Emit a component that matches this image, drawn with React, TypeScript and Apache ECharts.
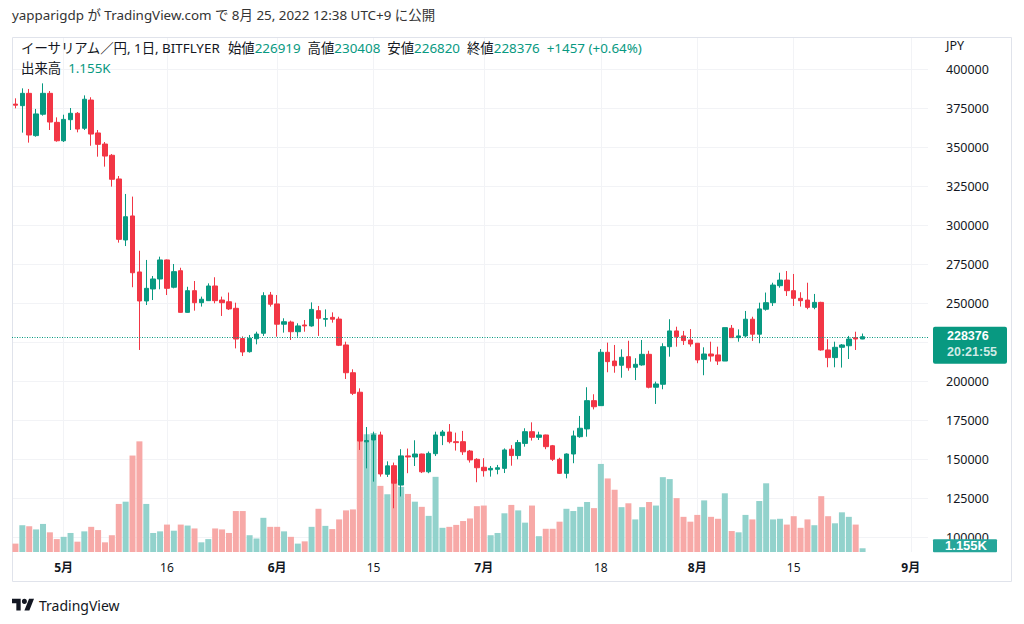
import React, { useEffect, useRef } from "react";
import * as echarts from "echarts";

const FONT = '"Noto Sans", "Noto Sans CJK JP", sans-serif';
const TAG_FONT = '"Liberation Sans", Arial, sans-serif';

// Day slots on the x axis: 2022-04-24 .. 2022-09-03
const firstDay = { y: 2022, m: 4, d: 24 };
const slotCount = 133;

const xTickDates = ["2022-05-01", "2022-05-16", "2022-06-01", "2022-06-15", "2022-07-01", "2022-07-18", "2022-08-01", "2022-08-15", "2022-09-01"];
const xTickTexts = ["5月", "16", "6月", "15", "7月", "18", "8月", "15", "9月"];

const priceMin = 100000;
const priceMax = 400000;
const priceStep = 25000;

// Daily OHLC, ETH/JPY bitFlyer, 2022-04-24 .. 2022-08-25
const openP = [377500, 376500, 384400, 357300, 371000, 384400, 365800, 354000, 367500, 371600, 362000, 380100, 359000, 351900, 344700, 329500, 290400, 305800, 269900, 251300, 259000, 265400, 277600, 260100, 270700, 244000, 257900, 250200, 251500, 260900, 251900, 250800, 246600, 227200, 218800, 227100, 230600, 255100, 249400, 236400, 237800, 231600, 235900, 235300, 245100, 239600, 240800, 239700, 223100, 205300, 192800, 161000, 162200, 165400, 140200, 145700, 133300, 152000, 151300, 153200, 141800, 153400, 165000, 167300, 161100, 161100, 155100, 149800, 144700, 143000, 143400, 144000, 156300, 152200, 160000, 167500, 163900, 165400, 158500, 149800, 140800, 153200, 164300, 169300, 187400, 184200, 218400, 212800, 210100, 215600, 208800, 210300, 217100, 196000, 197900, 222000, 232100, 228900, 226300, 224200, 213900, 217300, 216700, 212800, 233800, 227800, 228900, 239600, 230000, 246000, 250200, 261100, 264700, 257900, 253000, 251900, 247200, 250400, 219900, 215000, 221600, 222600, 227800, 226919];
const highP = [381200, 387600, 387200, 374400, 390800, 385900, 369000, 370700, 375000, 372400, 383100, 381900, 360900, 353200, 345500, 331400, 319900, 318200, 283500, 277600, 267300, 279700, 277900, 275000, 272600, 260400, 264100, 254100, 262600, 266500, 254100, 256700, 250200, 228600, 229500, 231600, 256900, 257100, 255100, 240200, 238700, 237000, 239100, 250400, 248100, 245900, 244000, 241200, 225200, 207500, 195300, 170500, 167500, 167500, 148500, 147700, 156300, 156700, 162000, 153400, 154800, 167500, 168600, 172400, 166900, 168000, 155800, 150500, 150500, 145500, 146200, 156800, 158900, 162200, 169700, 173500, 167500, 165600, 159000, 150800, 153600, 168200, 177600, 196000, 191500, 220500, 224600, 223100, 220300, 225800, 214600, 226300, 219400, 199600, 224200, 239600, 234800, 232100, 233300, 224400, 221600, 225200, 222000, 234200, 235900, 233100, 244900, 241200, 250200, 256700, 263000, 269400, 270500, 268600, 256900, 263000, 255800, 250800, 226800, 225200, 223700, 228900, 231600, 230408];
const lowP = [374800, 359200, 352800, 356600, 370100, 360900, 353400, 353200, 360900, 359400, 360900, 350800, 343800, 337400, 324600, 288700, 286500, 260100, 219900, 248700, 251900, 258800, 255100, 259400, 243800, 243800, 245100, 247700, 251300, 249800, 241700, 245500, 220900, 216000, 218200, 223500, 228900, 247700, 228400, 231000, 226300, 228400, 231600, 234800, 228900, 234800, 237400, 222400, 201300, 191000, 155800, 144000, 135500, 138700, 138500, 118400, 126000, 140900, 145500, 141000, 140900, 151900, 158900, 160000, 155400, 152600, 147700, 135100, 138700, 138700, 140200, 141000, 145700, 149800, 157900, 161800, 162200, 156300, 148700, 140400, 137600, 147300, 163600, 164300, 181800, 184200, 205600, 205300, 202100, 206600, 200600, 209800, 195300, 185300, 194700, 215600, 222000, 223100, 222000, 211400, 203700, 212400, 210300, 212800, 227800, 225200, 228000, 225700, 224200, 245100, 248100, 259800, 254500, 248100, 247700, 246000, 246000, 219400, 208800, 208800, 208600, 214100, 219900, 226820];
const closeP = [376800, 384400, 357700, 371200, 384400, 366000, 354000, 367700, 371600, 361500, 380600, 358300, 351700, 344200, 329300, 290800, 305300, 269400, 251300, 259400, 265400, 277600, 259400, 270100, 244000, 257900, 250200, 252400, 260900, 251500, 250200, 246200, 226900, 218600, 227400, 230100, 254700, 249200, 236400, 238000, 231600, 235300, 235300, 245900, 240200, 240000, 239600, 222900, 205300, 192100, 161500, 161800, 165400, 140400, 145600, 134500, 152000, 151300, 153200, 141800, 153600, 165400, 167300, 161100, 160500, 154600, 149400, 144400, 142500, 144000, 144400, 155800, 152200, 160500, 167500, 163900, 165400, 157900, 149800, 140800, 153200, 164800, 169700, 187400, 183500, 218400, 212400, 209800, 215200, 208500, 210700, 217100, 196000, 198100, 222000, 232100, 228400, 225900, 223700, 213500, 217300, 216000, 212800, 234200, 227800, 228900, 239600, 230000, 246200, 250200, 261500, 264700, 257900, 253000, 251500, 247200, 250400, 219900, 215000, 221600, 223100, 226900, 226919, 228376];
// Volume in thousands (K)
const volumeK = [2.6, 8.3, 8.0, 7.0, 8.7, 6.1, 4.0, 4.7, 5.9, 3.2, 6.4, 7.8, 6.8, 3.0, 5.2, 14.9, 15.6, 29.9, 34.3, 14.9, 5.9, 6.4, 8.5, 6.6, 8.5, 8.2, 7.3, 3.0, 4.0, 7.3, 7.0, 5.9, 12.7, 12.7, 5.2, 4.2, 10.6, 7.8, 7.8, 6.4, 4.7, 2.6, 3.3, 7.8, 13.4, 8.1, 7.1, 10.1, 12.9, 13.2, 40.2, 36.5, 36.9, 20.5, 17.9, 22.6, 20.2, 18.0, 15.6, 14.0, 11.2, 23.3, 7.5, 7.8, 8.4, 9.6, 10.4, 14.2, 14.4, 5.2, 5.9, 12.0, 14.6, 12.9, 9.1, 14.4, 4.9, 7.2, 7.2, 9.4, 13.4, 12.7, 14.0, 15.5, 13.6, 27.3, 22.8, 19.3, 13.9, 15.1, 10.1, 13.9, 15.5, 14.4, 23.2, 22.6, 16.7, 10.9, 9.4, 11.5, 16.0, 10.9, 10.3, 18.2, 6.5, 6.1, 11.5, 10.1, 15.8, 21.3, 10.1, 10.3, 8.5, 11.1, 7.5, 10.1, 8.3, 17.3, 11.1, 8.9, 12.3, 10.9, 8.5, 1.155];

const UP = "#089981";
const DOWN = "#f23645";
const VOL_UP = "#92d2cc";
const VOL_DOWN = "#f7a9a7";
const TEXT = "#131722";
const GRID_LINE = "#f2f3f6";

function makeDates(): string[] {
  const out: string[] = [];
  for (let k = 0; k < slotCount; k++) {
    const dt = new Date(Date.UTC(firstDay.y, firstDay.m - 1, firstDay.d + k));
    const mm = String(dt.getUTCMonth() + 1).padStart(2, "0");
    const dd = String(dt.getUTCDate()).padStart(2, "0");
    out.push(`${dt.getUTCFullYear()}-${mm}-${dd}`);
  }
  return out;
}

echarts.graphic.registerShape(
  "tvlogo",
  echarts.graphic.extendPath("M0 4H14V22H7V11H0Z M20 22L27.5 4H35.5L28 22Z M24 8A4 4 0 1 1 16 8A4 4 0 1 1 24 8Z", {})
);

export default function App() {
  const ref = useRef<HTMLDivElement>(null);

  useEffect(() => {
    if (!ref.current) return;
    const chart = echarts.init(ref.current, undefined, { renderer: "svg" });
    const dates = makeDates();
    const tickMap: Record<string, string> = {};
    xTickDates.forEach((d, i) => (tickMap[d] = xTickTexts[i]));
    const isTick = (_i: number, v: string) => tickMap[v] !== undefined;

    const candleData = openP.map((o, i) => [o, closeP[i], lowP[i], highP[i]]);
    const volData = volumeK.map((v, i) => ({
      value: v,
      itemStyle: { color: closeP[i] >= openP[i] ? VOL_UP : VOL_DOWN },
    }));

    const n = closeP.length;
    const lastClose = closeP[n - 1];
    const change = lastClose - closeP[n - 2];
    const pct = ((change / closeP[n - 2]) * 100).toFixed(2);
    const sign = change >= 0 ? "+" : "";

    const gridLeft = 12;
    const gridRight = 96;

    chart.setOption({
      animation: false,
      backgroundColor: "#ffffff",
      textStyle: { fontFamily: FONT },
      grid: [
        { left: gridLeft, right: gridRight, top: 69, bottom: 87 },
        { left: gridLeft, right: gridRight, top: 37, bottom: 72 },
      ],
      xAxis: [
        { type: "category", gridIndex: 0, data: dates, boundaryGap: true, show: false },
        {
          type: "category",
          gridIndex: 1,
          data: dates,
          boundaryGap: true,
          axisLine: { show: false },
          axisTick: { show: false },
          axisLabel: {
            interval: isTick,
            margin: 9,
            formatter: (v: string) => {
              const t = tickMap[v] || "";
              return t.indexOf("月") >= 0 ? `{m|${t}}` : `{d|${t}}`;
            },
            rich: {
              m: { fontWeight: "bold", fontSize: 12, color: TEXT, fontFamily: FONT },
              d: { fontSize: 12, color: TEXT, fontFamily: FONT },
            },
          },
          splitLine: { show: true, interval: isTick, alignWithLabel: true, lineStyle: { color: GRID_LINE, width: 1 } },
        },
      ],
      yAxis: [
        {
          type: "value",
          gridIndex: 0,
          position: "right",
          min: priceMin,
          max: priceMax,
          interval: priceStep,
          axisLine: { show: false },
          axisTick: { show: false },
          axisLabel: {
            color: TEXT,
            fontSize: 12.5,
            margin: 18,
            fontFamily: FONT,
            formatter: (v: number) => String(v),
          },
          splitLine: { lineStyle: { color: GRID_LINE, width: 1 } },
        },
        { type: "value", gridIndex: 1, min: 0, max: 159.65, show: false, splitLine: { show: false } },
      ],
      series: [
        {
          type: "bar",
          xAxisIndex: 1,
          yAxisIndex: 1,
          data: volData,
          barWidth: 6,
          z: 2,
        },
        {
          type: "candlestick",
          xAxisIndex: 0,
          yAxisIndex: 0,
          data: candleData,
          barWidth: 5,
          z: 3,
          itemStyle: { color: UP, color0: DOWN, borderColor: UP, borderColor0: DOWN, borderWidth: 1 },
        },
      ],
    });

    const yPrice = chart.convertToPixel({ yAxisIndex: 0 }, lastClose) as number;
    const yVol = chart.convertToPixel({ yAxisIndex: 1 }, volumeK[n - 1]) as number;
    const plotRight = 1024 - gridRight;
    const yLine = Math.round(yPrice) + 0.5;

    chart.setOption({
      graphic: [
        {
          type: "rect",
          shape: { x: 12.5, y: 37.5, width: 999, height: 544 },
          style: { fill: "none", stroke: "#e0e3eb", lineWidth: 1 },
          silent: true,
          z: 0,
        },
        {
          type: "line",
          z: 5,
          silent: true,
          shape: { x1: gridLeft, y1: yLine, x2: plotRight, y2: yLine },
          style: { stroke: UP, lineWidth: 1, lineDash: [1, 1.5] },
        },
        {
          type: "text",
          x: 12,
          y: 15,
          style: {
            text: "yapparigdp が TradingView.com で 8月 25, 2022 12:38 UTC+9 に公開",
            fill: "#333333",
            font: `13.4px ${FONT}`,
            verticalAlign: "middle",
          },
        },
        {
          type: "text",
          x: 21,
          y: 48,
          z: 10,
          style: {
            text:
              `{k|イーサリアム／円, 1日, BITFLYER}  {k|始値}{v|${openP[n - 1]}}  {k|高値}{v|${highP[n - 1]}}  ` +
              `{k|安値}{v|${lowP[n - 1]}}  {k|終値}{v|${lastClose}}  {v|${sign}${change} (${sign}${pct}%)}`,
            verticalAlign: "middle",
            font: `13.4px ${FONT}`,
            fill: TEXT,
            rich: {
              k: { fill: TEXT, font: `13.4px ${FONT}` },
              v: { fill: UP, font: `13.4px ${FONT}` },
            },
          },
        },
        {
          type: "text",
          x: 21,
          y: 68,
          z: 10,
          style: {
            text: `{k|出来高}  {v|${volumeK[n - 1]}K}`,
            verticalAlign: "middle",
            font: `13.4px ${FONT}`,
            fill: TEXT,
            rich: {
              k: { fill: TEXT, font: `13.4px ${FONT}` },
              v: { fill: UP, font: `13.4px ${FONT}` },
            },
          },
        },
        {
          type: "text",
          x: 946,
          y: 45,
          style: { text: "JPY", fill: TEXT, font: `12.5px ${FONT}`, verticalAlign: "middle" },
        },
        {
          type: "rect",
          z: 20,
          shape: { x: 933, y: yPrice - 10, width: 74, height: 37, r: 2 },
          style: { fill: UP },
        },
        {
          type: "text",
          z: 21,
          x: 947,
          y: yPrice - 0.5,
          style: {
            text: String(lastClose),
            fill: "#ffffff",
            font: `bold 12.5px ${TAG_FONT}`,
            verticalAlign: "middle",
            lineHeight: 13,
          },
        },
        {
          type: "text",
          z: 21,
          x: 947,
          y: yPrice + 15.5,
          style: {
            text: "20:21:55",
            fill: "rgba(255,255,255,0.82)",
            font: `bold 12.5px ${TAG_FONT}`,
            verticalAlign: "middle",
            lineHeight: 13,
          },
        },
        {
          type: "rect",
          z: 20,
          shape: { x: 933, y: yVol - 9, width: 64, height: 13, r: 1 },
          style: { fill: "#26a69a" },
        },
        {
          type: "text",
          z: 21,
          x: 966,
          y: yVol - 2.5,
          style: {
            text: `${volumeK[n - 1]}K`,
            fill: "#ffffff",
            font: `bold 13px ${TAG_FONT}`,
            align: "center",
            verticalAlign: "middle",
          },
        },
        {
          type: "tvlogo",
          x: 12,
          y: 596,
          scaleX: 0.62,
          scaleY: 0.66,
          style: { fill: TEXT },
        },
        {
          type: "text",
          x: 39,
          y: 605,
          style: { text: "TradingView", fill: TEXT, font: `14px ${FONT}`, verticalAlign: "middle" },
        },
      ],
    });

    return () => chart.dispose();
  }, []);

  return <div ref={ref} style={{ width: 1024, height: 624, position: "absolute", left: 0, top: 0 }} />;
}
